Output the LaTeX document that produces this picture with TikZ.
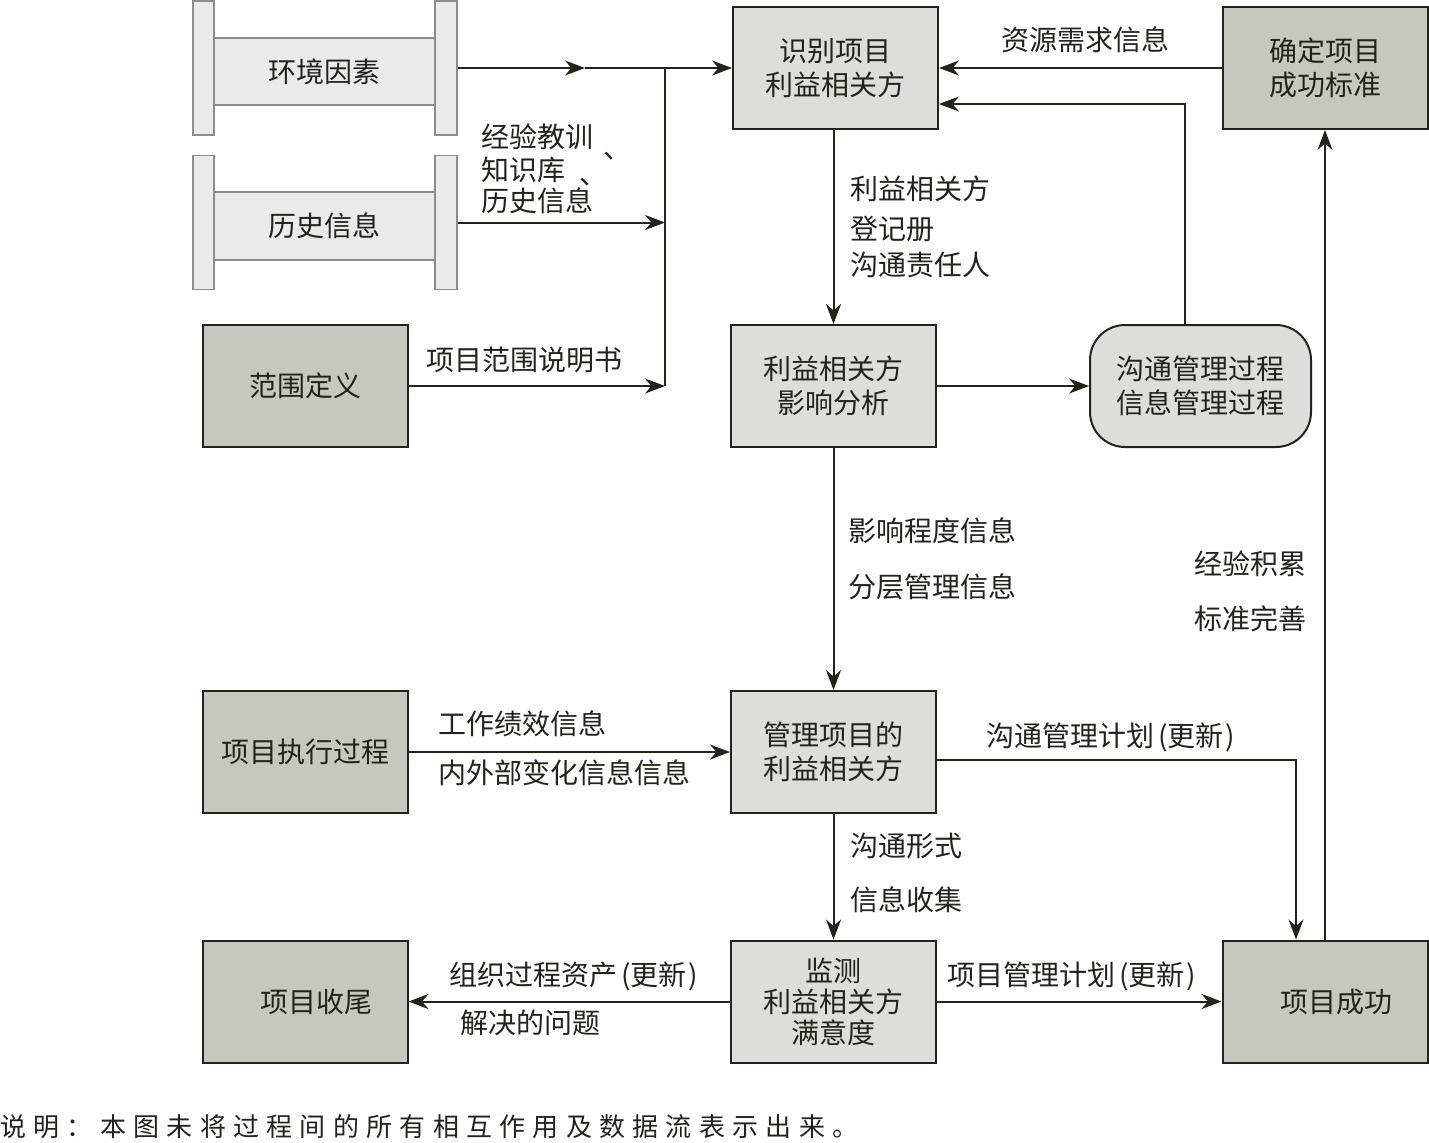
\documentclass[tikz,border=0pt]{standalone}
\usepackage{fontspec}
\setmainfont{Noto Sans CJK SC}
\newfontfamily\capfont[LetterSpace=28]{Noto Sans CJK SC}
\usetikzlibrary{arrows.meta}
\definecolor{lightbox}{HTML}{DEDDD9}
\definecolor{darkbox}{HTML}{C7C6BF}
\definecolor{docfill}{HTML}{EAEAEA}
\definecolor{docline}{HTML}{8C8C8C}
\definecolor{ink}{HTML}{23231A}
\newcommand{\lp}{\hspace{2pt}(}
\newcommand{\rp}{\hspace{1pt})}
\tikzset{
  box/.style={draw=ink, line width=1pt, minimum width=102.5pt, minimum height=61pt,
    inner sep=0pt, align=center, font=\fontsize{14}{17}\selectfont, text=ink},
  lbox/.style={box, fill=lightbox},
  dbox/.style={box, fill=darkbox},
  rbox/.style={box, fill=lightbox, rounded corners=17.5pt, minimum width=110.5pt},
  arr/.style={draw=ink, line width=1pt, -{Stealth[length=10pt,width=7.5pt]}},
  plain/.style={draw=ink, line width=1pt},
  lbl/.style={font=\fontsize{14}{19}\selectfont, text=ink, inner sep=0pt, align=left},
  bar/.style={draw=docline, fill=docfill, line width=0.6pt, minimum width=10.5pt,
    minimum height=67pt, inner sep=0pt},
  midrect/.style={draw=docline, fill=docfill, line width=0.6pt, minimum width=110.5pt,
    minimum height=33.5pt, inner sep=0pt, font=\fontsize{14}{17}\selectfont, text=ink}
}
\begin{document}
\begin{tikzpicture}[x=0.5pt,y=-0.5pt]
\useasboundingbox[fill=white] (0,0) rectangle (1429,1142);

% document shapes
\node[midrect] (hjM) at (324.5,71.5) {环境因素};
\node[bar] (hjL) at (203.5,68) {};
\node[bar, minimum width=11pt] (hjR) at (446,68) {};
\node[midrect, minimum height=34pt] (hsM) at (324.5,226) {历史信息};
\node[bar] (hsL) at (203.5,222.5) {};
\node[bar, minimum width=11pt] (hsR) at (446,222.5) {};

% boxes
\node[lbox] (shibie) at (835.5,68) {识别项目\\利益相关方};
\node[dbox] (queding) at (1325,68) {确定项目\\成功标准};
\node[dbox] (fanwei) at (305,386) {范围定义};
\node[lbox] (yingxiang) at (833.5,386) {利益相关方\\影响分析};
\node[rbox] (goutong) at (1200.5,386) {沟通管理过程\\信息管理过程};
\node[dbox] (zhixing) at (305,752) {项目执行过程};
\node[lbox] (guanli) at (833.5,752) {管理项目的\\利益相关方};
\node[dbox] (shouwei) at (305,1001.5) {\hspace*{11pt}项目收尾};
\node[lbox, font=\fontsize{14}{15.5}\selectfont] (jiance) at (833.5,1001.5) {监测\\利益相关方\\满意度};
\node[dbox] (chenggong) at (1325,1001.5) {\hspace*{11pt}项目成功};

% junction coordinates
\coordinate (jA) at (585,68);
\coordinate (jT) at (665,68);
\coordinate (jB) at (665,386);
\coordinate (t1) at (1296,760);
\coordinate (t2) at (1185,104);

% connectors
\draw[arr] (hjR.east) -- (jA);
\draw[arr] (jA) -- (shibie.west);
\draw[plain] (jT) -- (jB);
\draw[arr] (hsR.east) -- (hsR.east -| jT);
\draw[arr] (fanwei.east) -- (jB);
\draw[arr] (queding.west) -- (shibie.east |- queding.west);
\draw[arr] (goutong.north -| t2) -- (t2) -- (t2 -| shibie.east);
\draw[arr] (yingxiang.north |- shibie.south) -- (yingxiang.north);
\draw[arr] (yingxiang.east) -- (goutong.west);
\draw[arr] (yingxiang.south) -- (guanli.north);
\draw[arr] (zhixing.east) -- (guanli.west);
\draw[arr] ([yshift=-4pt]guanli.east) -- (t1) -- (t1 |- chenggong.north);
\draw[arr] (guanli.south) -- (jiance.north);
\draw[arr] (jiance.west) -- (shouwei.east);
\draw[arr] (jiance.east) -- (chenggong.west);
\draw[arr] (chenggong.north) -- (queding.south);

% labels
\node[lbl] (l1) at (1085,40) {资源需求信息};
\node[lbl] (l2) at (524,360) {项目范围说明书};
\node[lbl, anchor=west] (l3a) at (481,137) {经验教训};
\node[lbl] (l3c1) at (617,156) {、};
\node[lbl, anchor=west] (l3b) at (481,170) {知识库};
\node[lbl] (l3c2) at (593,182) {、};
\node[lbl, anchor=west] (l3d) at (481,201) {历史信息};
\node[lbl, anchor=west] (l4a) at (850,189) {利益相关方};
\node[lbl, anchor=west] (l4b) at (850,229) {登记册};
\node[lbl, anchor=west] (l4c) at (850,265) {沟通责任人};
\node[lbl, anchor=west] (l5a) at (848,531) {影响程度信息};
\node[lbl, anchor=west] (l5b) at (848,587) {分层管理信息};
\node[lbl, anchor=west] (l6a) at (1194,564) {经验积累};
\node[lbl, anchor=west] (l6b) at (1194,619) {标准完善};
\node[lbl, anchor=west] (l7a) at (438,724) {工作绩效信息};
\node[lbl, anchor=west] (l7b) at (438,773) {内外部变化信息信息};
\node[lbl, anchor=west] (l8) at (986,737) {沟通管理计划\lp 更新\rp};
\node[lbl, anchor=west] (l9a) at (850,846) {沟通形式};
\node[lbl, anchor=west] (l9b) at (850,900) {信息收集};
\node[lbl, anchor=west] (l10a) at (449,976) {组织过程资产\lp 更新\rp};
\node[lbl, anchor=west] (l10b) at (460,1023) {解决的问题};
\node[lbl, anchor=west] (l11) at (947,976) {项目管理计划\lp 更新\rp};
\node[lbl, anchor=west, font=\capfont\fontsize{13}{15}\selectfont] (cap) at (0,1127) {说明：本图未将过程间的所有相互作用及数据流表示出来。};
\end{tikzpicture}
\end{document}
